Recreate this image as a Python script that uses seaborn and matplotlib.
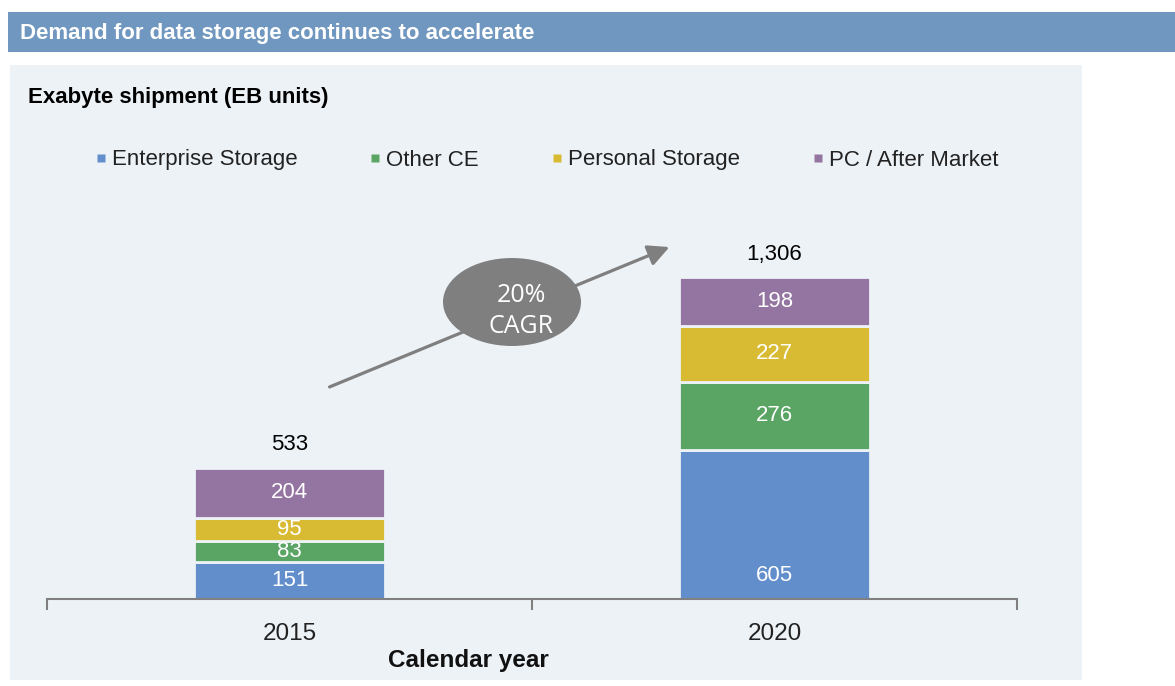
import numpy as np
import matplotlib
matplotlib.use("Agg")
import matplotlib.pyplot as plt
import seaborn as sns
from matplotlib.patches import Rectangle, Ellipse, FancyArrowPatch
from matplotlib.lines import Line2D

sns.set_theme(style="white")
plt.rcParams['font.family'] = ['Liberation Sans', 'DejaVu Sans']

# data (EB shipped)
years = ['2015', '2020']
series = ['Enterprise Storage', 'Other CE', 'Personal Storage', 'PC / After Market']
enterprise = [151, 605]
other_ce = [83, 276]
personal = [95, 227]
pc_after = [204, 198]
totals = ['533', '1,306']
cagr_label = '20%\nCAGR'

colors = ['#628FCC', '#5AA564', '#D9BB33', '#9474A0']
panel = '#EDF2F6'

fig = plt.figure(figsize=(11.75, 6.86), dpi=100)
fig.patch.set_facecolor('white')

# banner + light panel
fig.add_artist(Rectangle((8/1175, 1-52/686), 1, 40/686, transform=fig.transFigure,
                         facecolor='#7097BF', edgecolor='none', zorder=0))
fig.add_artist(Rectangle((10/1175, 1-680/686), 1072/1175, 615/686, transform=fig.transFigure,
                         facecolor=panel, edgecolor='none', zorder=0))
fig.text(20/1175, 1-33/686, 'Demand for data storage continues to accelerate',
         color='white', fontsize=16, fontweight='bold', va='center')
fig.text(28/1175, 1-97/686, 'Exabyte shipment (EB units)',
         color='black', fontsize=16, fontweight='bold', va='center')

ax = fig.add_axes([47/1175, 1-599/686, 970/1175, 399/686])
ax.set_facecolor('none')

stack = [enterprise, other_ce, personal, pc_after]
bottom = np.zeros(len(years))
for vals, col in zip(stack, colors):
    sns.barplot(x=years, y=vals, bottom=bottom, color=col, saturation=1,
                width=0.395, edgecolor=panel, linewidth=2, errorbar=None, ax=ax)
    for i, v in enumerate(vals):
        ypos = bottom[i] + v / 2
        if v > 500:
            ypos = bottom[i] + v * 0.16
        ax.text(i, ypos, str(v), ha='center', va='center', color='white', fontsize=16)
    bottom = bottom + np.array(vals)

for i, t in enumerate(totals):
    ax.annotate(t, (i, bottom[i]), xytext=(0, 16.5), textcoords='offset points',
                ha='center', va='center', fontsize=16, color='black')

ax.set_xlim(-0.5, 1.5)
ax.set_ylim(0, 399 / (322 / 1306))
ax.set_yticks([])
ax.set_ylabel('')
for s in ['left', 'top', 'right']:
    ax.spines[s].set_visible(False)
ax.spines['bottom'].set_color('#808080')
ax.spines['bottom'].set_linewidth(1.5)
ax.spines['bottom'].set_zorder(5)
ax.set_xticks([0, 1])
ax.set_xticklabels(years, fontsize=17.5, color='#222222')
ax.tick_params(axis='x', which='major', bottom=True, length=0, pad=17)
ax.set_xticks([-0.5, 0.5, 1.5], minor=True)
ax.tick_params(axis='x', which='minor', bottom=True, length=8, width=1.5,
               color='#808080', direction='out')

fig.text(468/1175, 1-661/686, 'Calendar year', fontsize=17.5, fontweight='bold',
         ha='center', va='center', color='#111111')

# legend
handles = [Line2D([], [], marker='s', linestyle='none', markersize=6,
                  markerfacecolor=c, markeredgecolor='none') for c in colors]
fig.legend(handles, series, loc='center left', bbox_to_anchor=(83/1175, 1-160/686),
           ncol=4, frameon=False, fontsize=16, handletextpad=0.1, columnspacing=3.1,
           handlelength=0.8, borderaxespad=0, labelcolor='#222222')

# CAGR arrow + bubble
fig.add_artist(FancyArrowPatch((327/1175, 1-388/686), (672/1175, 1-246/686),
                               transform=fig.transFigure, arrowstyle='-|>,head_length=0.8,head_width=0.4',
                               mutation_scale=16, color='#7F7F7F', linewidth=2.3, zorder=3))
fig.add_artist(Ellipse((512/1175, 1-302/686), 138/1175, 88/686, transform=fig.transFigure,
                       facecolor='#7F7F7F', edgecolor='none', zorder=4))
fig.text(521/1175, 1-311/686, cagr_label, ha='center', va='center', color='white',
         fontsize=18, family=['Open Sans', 'DejaVu Sans'], linespacing=1.35, zorder=5)

fig.savefig('out.png', dpi=100)
